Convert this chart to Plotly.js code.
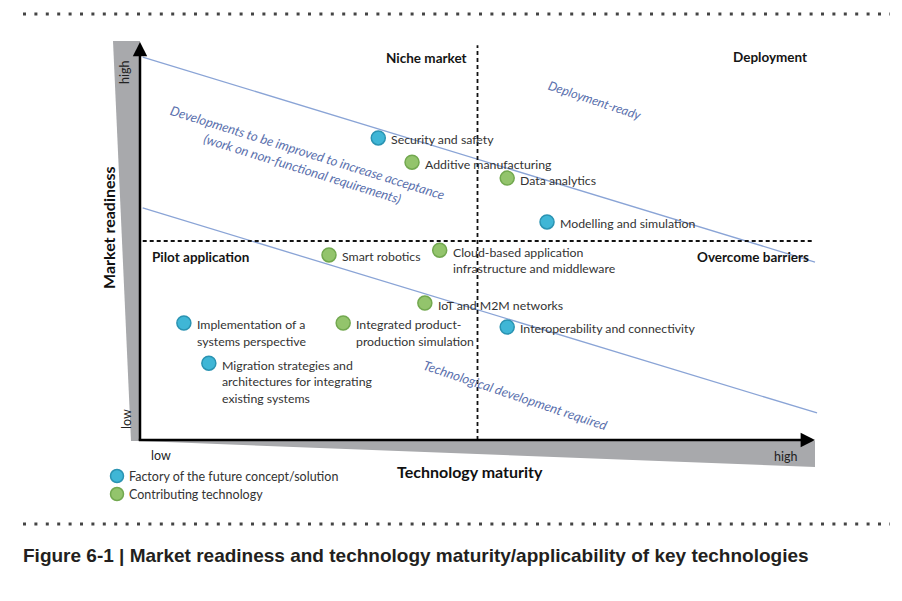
<!DOCTYPE html>
<html>
<head>
<meta charset="utf-8">
<script src="https://cdn.plot.ly/plotly-3.0.1.min.js"></script>
<style>html,body{margin:0;padding:0;background:#fff;}#chart{width:902px;height:601px;}</style>
</head>
<body>
<div id="chart"></div>
<script>
// ---------------- DATA ----------------
const techNames = [
  'Security and safety',
  'Additive manufacturing',
  'Data analytics',
  'Modelling and simulation',
  'Smart robotics',
  'Cloud-based application\ninfrastructure and middleware',
  'IoT and M2M networks',
  'Integrated product-\nproduction simulation',
  'Implementation of a\nsystems perspective',
  'Migration strategies and\narchitectures for integrating\nexisting systems',
  'Interoperability and connectivity'
];
const techMaturity    = [3.53, 4.03, 5.44, 6.03, 2.80, 4.44, 4.22, 3.01, 0.65, 1.02, 5.44];
const marketReadiness = [7.59, 6.98, 6.58, 5.48, 4.65, 4.77, 3.44, 2.94, 2.94, 1.93, 2.84];
const techType = ['factory','contributing','contributing','factory','contributing','contributing',
                  'contributing','contributing','factory','factory','factory'];
const seriesNames = {factory: 'Factory of the future concept/solution', contributing: 'Contributing technology'};

// boundaries
const maturityThreshold = 5;
const readinessThreshold = 5;
const upperBoundX = [0.04, 10.0];
const upperBoundY = [9.62, 4.47];
const lowerBoundX = [0.04, 10.03];
const lowerBoundY = [5.83, 0.68];
const quadrantNames = ['Niche market', 'Deployment', 'Pilot application', 'Overcome barriers'];
const zoneNotes = ['Developments to be improved to increase acceptance<br>(work on non-functional requirements)',
                   'Deployment-ready', 'Technological development required'];
const axisTickLabels = ['low', 'high'];
const caption = 'Figure 6-1 | Market readiness and technology maturity/applicability of key technologies';

// ---------------- LAYOUT GEOMETRY ----------------
const W = 902, H = 601;
const X0 = 140, X10 = 815, Y0 = 440, Y10 = 42;
const kx = (X10 - X0) / 10, ky = (Y0 - Y10) / 10;
const PX = x => x / W, PY = y => 1 - y / H;

const colors = {
  factory: {fill: '#3fb6d6', line: '#2a93b2'},
  contributing: {fill: '#93c46c', line: '#72a84f'}
};
const FONT = 'Lato, "Open Sans", sans-serif';
const TXT = '#333333';

// ---------------- TRACES ----------------
const traces = [];
traces.push({x: upperBoundX, y: upperBoundY, mode: 'lines', line: {color: '#8aa4d6', width: 1.3}, hoverinfo: 'skip', showlegend: false});
traces.push({x: lowerBoundX, y: lowerBoundY, mode: 'lines', line: {color: '#8aa4d6', width: 1.3}, hoverinfo: 'skip', showlegend: false});
traces.push({x: [maturityThreshold, maturityThreshold], y: [0, 9.92], mode: 'lines', line: {color: '#111', width: 1.8, dash: '4px,3px'}, hoverinfo: 'skip', showlegend: false});
traces.push({x: [0.04, 9.96], y: [readinessThreshold, readinessThreshold], mode: 'lines', line: {color: '#111', width: 1.8, dash: '4px,3px'}, hoverinfo: 'skip', showlegend: false});

['factory', 'contributing'].forEach(t => {
  const idx = techType.map((v, i) => v === t ? i : -1).filter(i => i >= 0);
  traces.push({
    x: idx.map(i => techMaturity[i]), y: idx.map(i => marketReadiness[i]),
    text: idx.map(i => techNames[i]),
    name: seriesNames[t], mode: 'markers', showlegend: false,
    marker: {size: 14, color: colors[t].fill, line: {color: colors[t].line, width: 1.5}}
  });
});

// ---------------- ANNOTATIONS ----------------
const ann = [];
const P = (x, y, o) => Object.assign({x: PX(x), y: PY(y), xref: 'paper', yref: 'paper', xanchor: 'center', yanchor: 'middle', showarrow: false}, o);
// point labels
techNames.forEach((n, i) => {
  n.split('\n').forEach((line, j) => {
    ann.push({x: techMaturity[i], y: marketReadiness[i], xref: 'x', yref: 'y', text: line,
      showarrow: false, xanchor: 'left', yanchor: 'middle', xshift: 11, yshift: -2 - j * 16.5,
      font: {family: FONT, size: 12.3, color: TXT}});
  });
});
// quadrant labels
const qpos = [[426, 58], [770, 57], [200, 257], [753, 257]];
quadrantNames.forEach((q, i) => ann.push(P(qpos[i][0], qpos[i][1], {
  text: '<b>' + q + '</b>', font: {family: FONT, size: 13.5, color: '#151515'}})));
// zone notes
const npos = [[305, 160, 17.3, 13], [595, 101, 18.5, 12.5], [515, 395, 18.5, 13]];
zoneNotes.forEach((z, i) => ann.push(P(npos[i][0], npos[i][1], {
  text: z, textangle: npos[i][2], align: 'center',
  font: {family: FONT, size: npos[i][3], color: '#5a70ad', style: 'italic'}})));
// axis arrows
ann.push({x: 0, y: 10, ax: 0, ay: -0.05, xref: 'x', yref: 'y', axref: 'x', ayref: 'y', text: '', showarrow: true,
  arrowhead: 2, arrowsize: 1.15, arrowwidth: 2.5, arrowcolor: '#000'});
ann.push({x: 10, y: 0, ax: -0.04, ay: 0, xref: 'x', yref: 'y', axref: 'x', ayref: 'y', text: '', showarrow: true,
  arrowhead: 2, arrowsize: 1.15, arrowwidth: 2.5, arrowcolor: '#000'});
// axis titles
ann.push(P(108, 228, {text: '<b>Market readiness</b>', textangle: -90, font: {family: FONT, size: 16, color: '#111'}}));
ann.push(P(470, 471, {text: '<b>Technology maturity</b>', font: {family: FONT, size: 16, color: '#111'}}));
// low / high
const tickFont = {family: FONT, size: 12.5, color: '#222'};
ann.push(P(124, 73, {text: axisTickLabels[1], textangle: -90, font: tickFont}));
ann.push(P(126, 419, {text: axisTickLabels[0], textangle: -90, font: tickFont}));
ann.push(P(161, 455, {text: axisTickLabels[0], font: tickFont}));
ann.push(P(785, 456, {text: axisTickLabels[1], font: tickFont}));
// legend text
ann.push(P(127, 476, {xanchor: 'left', text: seriesNames.factory, font: {family: FONT, size: 12.5, color: TXT}}));
ann.push(P(127, 494, {xanchor: 'left', text: seriesNames.contributing, font: {family: FONT, size: 12.5, color: TXT}}));
// caption
ann.push(P(21, 555, {xanchor: 'left', text: '<b>' + caption + '</b>',
  font: {family: '"Liberation Sans Narrow", "Arial Narrow", "Liberation Sans", Arial, sans-serif', size: 19, color: '#231f20'}}));

// ---------------- SHAPES ----------------
const poly = pts => 'M ' + pts.map(p => PX(p[0]) + ',' + PY(p[1])).join(' L ') + ' Z';
const shapes = [
  {type: 'path', xref: 'paper', yref: 'paper', layer: 'below', path: poly([[113, 41], [140, 41], [140, 441], [131, 441]]), fillcolor: '#a8a9ac', line: {width: 0}},
  {type: 'path', xref: 'paper', yref: 'paper', layer: 'below', path: poly([[140, 441], [815, 441], [815, 467]]), fillcolor: '#a8a9ac', line: {width: 0}},
  {type: 'line', xref: 'paper', yref: 'paper', x0: PX(23), x1: PX(890), y0: PY(14), y1: PY(14), line: {color: '#444', width: 3, dash: '3px,8.4px'}},
  {type: 'line', xref: 'paper', yref: 'paper', x0: PX(23), x1: PX(890), y0: PY(524), y1: PY(524), line: {color: '#444', width: 3, dash: '3px,8.4px'}}
];
[['factory', 476], ['contributing', 494]].forEach(([t, y]) => shapes.push({
  type: 'circle', xref: 'paper', yref: 'paper', xsizemode: 'pixel', ysizemode: 'pixel',
  xanchor: PX(117), yanchor: PY(y), x0: -6.5, x1: 6.5, y0: -6.5, y1: 6.5,
  fillcolor: colors[t].fill, line: {color: colors[t].line, width: 1.5}}));

const layout = {
  width: W, height: H, margin: {l: 0, r: 0, t: 0, b: 0},
  paper_bgcolor: '#fff', plot_bgcolor: '#fff', showlegend: false,
  xaxis: {range: [-X0 / kx, (W - X0) / kx], visible: false, fixedrange: true},
  yaxis: {range: [-(H - Y0) / ky, Y0 / ky], visible: false, fixedrange: true},
  annotations: ann, shapes: shapes
};
Plotly.newPlot('chart', traces, layout, {displayModeBar: false, staticPlot: true});
</script>
</body>
</html>
